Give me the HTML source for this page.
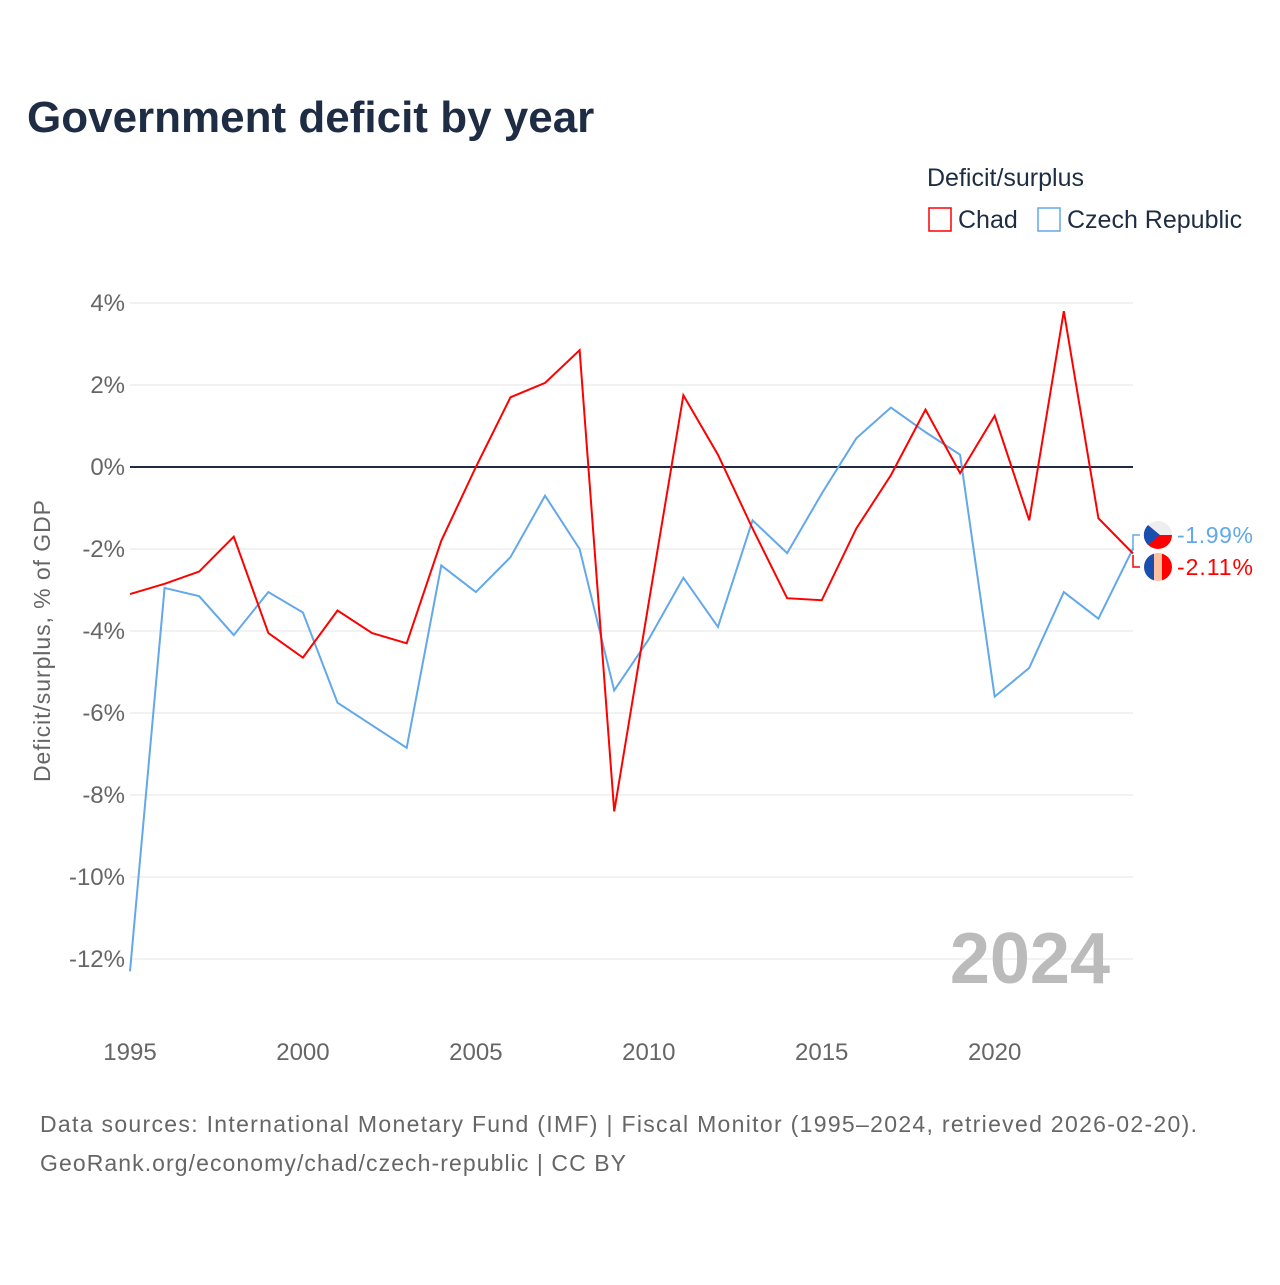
<!DOCTYPE html>
<html><head><meta charset="utf-8"><style>
body{margin:0;background:#fff;font-family:"Liberation Sans",sans-serif}
svg text{font-family:"Liberation Sans",sans-serif}
</style></head><body>
<svg width="1280" height="1280" xmlns="http://www.w3.org/2000/svg">
<text x="27" y="132" font-size="44" font-weight="bold" fill="#1e2d44">Government deficit by year</text>
<text x="927" y="186" font-size="25" fill="#1e2d44">Deficit/surplus</text>
<g><rect x="929" y="208" width="22" height="23" fill="none" stroke="#f00" stroke-width="1.5"/><text x="958" y="228" font-size="25" fill="#1e2d44">Chad</text></g>
<g><rect x="1038" y="208" width="22" height="23" fill="none" stroke="#62a8ea" stroke-width="1.5"/><text x="1067" y="228" font-size="25" fill="#1e2d44">Czech Republic</text></g>
<g id="grid"></g><g id="yt"></g><g id="xt"></g>
<text transform="translate(50,641) rotate(-90)" text-anchor="middle" font-size="23" fill="#666" textLength="282">Deficit/surplus, % of GDP</text>
<text x="1110" y="983" text-anchor="end" font-size="72" font-weight="bold" fill="#bbb">2024</text>
<g id="lines"></g>
<g>
<path d="M1133,550 L1133,535 L1140,535" fill="none" stroke="#62a8ea" stroke-width="1.5"/>
<circle cx="1158" cy="535" r="14" fill="#eee"/><path d="M1144,535 A14,14 0 0 0 1172,535 Z" fill="#f00"/><path d="M1148,525 L1160,535 L1148,545 A14,14 0 0 1 1148,525Z" fill="#1a4fb0"/>
<text x="1177" y="543" font-size="23" fill="#62a8ea" textLength="76">-1.99%</text></g>
<g>
<path d="M1133,555 L1133,567 L1140,567" fill="none" stroke="#f00" stroke-width="1.5"/>
<circle cx="1158" cy="567" r="14" fill="#ffc0a0"/><path d="M1154,553.6 A14,14 0 0 0 1154,580.4 Z" fill="#1a4fb0"/><path d="M1162,553.6 A14,14 0 0 1 1162,580.4 Z" fill="#f00"/>
<text x="1177" y="575" font-size="23" fill="#f00" textLength="76">-2.11%</text></g>
<text x="40" y="1132" font-size="23" fill="#666" textLength="1157">Data sources: International Monetary Fund (IMF) | Fiscal Monitor (1995–2024, retrieved 2026-02-20).</text>
<text x="40" y="1171" font-size="23" fill="#666" textLength="586">GeoRank.org/economy/chad/czech-republic | CC BY</text>
</svg>
<script>
const years=[1995,1996,1997,1998,1999,2000,2001,2002,2003,2004,2005,2006,2007,2008,2009,2010,2011,2012,2013,2014,2015,2016,2017,2018,2019,2020,2021,2022,2023,2024];
const chad=[-3.1,-2.85,-2.55,-1.7,-4.05,-4.65,-3.5,-4.05,-4.3,-1.8,0,1.7,2.05,2.85,-8.4,-3.3,1.75,0.3,-1.5,-3.2,-3.25,-1.5,-0.2,1.4,-0.15,1.25,-1.3,3.8,-1.25,-2.11];
const czech=[-12.3,-2.95,-3.15,-4.1,-3.05,-3.55,-5.75,-6.3,-6.85,-2.4,-3.05,-2.2,-0.7,-2.0,-5.45,-4.2,-2.7,-3.9,-1.3,-2.1,-0.65,0.7,1.45,0.85,0.3,-5.6,-4.9,-3.05,-3.7,-1.99];
const yTicks=[4,2,0,-2,-4,-6,-8,-10,-12];
const xTicks=[1995,2000,2005,2010,2015,2020];
const NS="http://www.w3.org/2000/svg";
const X=y=>130+(y-1995)*(1133-130)/29;
const Y=v=>467-v*41;
function mk(t,a,p){const e=document.createElementNS(NS,t);for(const k in a)e.setAttribute(k,a[k]);document.getElementById(p).appendChild(e);return e;}
yTicks.forEach(v=>{
 const l=mk('line',{x1:130,x2:1133,y1:Y(v),y2:Y(v),stroke:v===0?'#1e2d44':'#e4e4e4','stroke-width':v===0?2:1},'grid');
 
 
 const t=mk('text',{x:125,y:Y(v)+8,'text-anchor':'end','font-size':24,fill:'#666'},'yt');
 t.textContent=v+'%';
 
 
});
xTicks.forEach(v=>{
 const t=mk('text',{x:X(v),y:1060,'text-anchor':'middle','font-size':24,fill:'#666'},'xt');
 t.textContent=v;
 
 
});
[[czech,'#62a8ea','line-czech-republic'],[chad,'#f00','line-chad']].forEach(([d,c,n])=>{
 const p=mk('path',{d:d.map((v,i)=>(i?'L':'M')+X(years[i])+','+Y(v)).join(''),fill:'none',stroke:c,'stroke-width':2},'lines');
 
 
});
</script>
</body></html>
